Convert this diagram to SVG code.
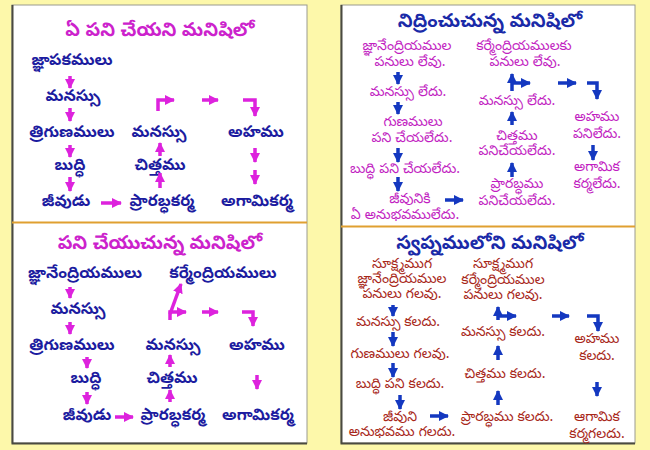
<svg xmlns="http://www.w3.org/2000/svg" width="650" height="450" viewBox="0 0 650 450">
<style>
text{font-family:"Noto Sans Telugu","Lohit Telugu","Noto Sans",sans-serif;text-anchor:middle;dominant-baseline:central}
.t1{font-size:19px;font-weight:bold;fill:#cc22cc}
.t2{font-size:19px;font-weight:bold;fill:#1a2aa8}
.lb{font-size:16px;font-weight:bold;fill:#1c1ca0}
.lm{font-size:14px;fill:#c21fc2}
.lr{font-size:14px;fill:#a8281a}
.am{fill:none;stroke:#dd22dd;stroke-width:3.5}
.ab{fill:none;stroke:#1438c0;stroke-width:3.5}
</style>
<defs>
<marker id="hm" viewBox="0 0 10 10" refX="9" refY="5" markerWidth="10" markerHeight="10" markerUnits="userSpaceOnUse" orient="auto"><path d="M0,0 L10,5 L0,10 z" fill="#dd22dd"/></marker>
<marker id="hb" viewBox="0 0 10 10" refX="9" refY="5" markerWidth="10" markerHeight="10" markerUnits="userSpaceOnUse" orient="auto"><path d="M0,0 L10,5 L0,10 z" fill="#1438c0"/></marker>
</defs>
<rect x="0" y="0" width="650" height="450" fill="#fdf8aa"/>
<g id="panels">
<rect x="12" y="5" width="295" height="438" fill="#ffffff" stroke="#9a9a90" stroke-width="1"/>
<path d="M12.5,5 V443.5 H307" fill="none" stroke="#4a4a40" stroke-width="2"/>
<line x1="12" y1="222.5" x2="307" y2="222.5" stroke="#e0a030" stroke-width="2"/>
<rect x="341" y="5" width="294" height="438" fill="#ffffff" stroke="#9a9a90" stroke-width="1"/>
<path d="M341.5,5 V443.5 H635" fill="none" stroke="#4a4a40" stroke-width="2"/>
<line x1="341" y1="226.5" x2="635" y2="226.5" stroke="#e0a030" stroke-width="2"/>
</g>

<!-- top-left -->
<g id="tl-title"><text class="t1" x="160" y="32">ఏ పని చేయని మనిషిలో</text></g>
<g id="tl-n1"><text class="lb" x="72" y="62">జ్ఞాపకములు</text></g>
<g id="tl-n2"><text class="lb" x="73" y="98">మనస్సు</text></g>
<g id="tl-n3"><text class="lb" x="72" y="134">త్రిగుణములు</text></g>
<g id="tl-n4"><text class="lb" x="70" y="167">బుద్ధి</text></g>
<g id="tl-n5"><text class="lb" x="66" y="203">జీవుడు</text></g>
<g id="tl-n6"><text class="lb" x="162" y="203">ప్రారబ్ధకర్మ</text></g>
<g id="tl-n7"><text class="lb" x="160" y="167">చిత్తము</text></g>
<g id="tl-n8"><text class="lb" x="159" y="134">మనస్సు</text></g>
<g id="tl-n9"><text class="lb" x="256" y="134">అహము</text></g>
<g id="tl-n10"><text class="lb" x="257" y="203">అగామికర్మ</text></g>

<!-- bottom-left -->
<g id="bl-title"><text class="t1" x="160" y="245">పని చేయుచున్న మనిషిలో</text></g>
<g id="bl-n1"><text class="lb" x="85" y="275">జ్ఞానేంద్రియములు</text></g>
<g id="bl-n2"><text class="lb" x="223" y="275">కర్మేంద్రియములు</text></g>
<g id="bl-n3"><text class="lb" x="78" y="311">మనస్సు</text></g>
<g id="bl-n4"><text class="lb" x="72" y="347">త్రిగుణములు</text></g>
<g id="bl-n5"><text class="lb" x="173" y="347">మనస్సు</text></g>
<g id="bl-n6"><text class="lb" x="257" y="347">అహము</text></g>
<g id="bl-n7"><text class="lb" x="86" y="380">బుద్ధి</text></g>
<g id="bl-n8"><text class="lb" x="172" y="380">చిత్తము</text></g>
<g id="bl-n9"><text class="lb" x="87" y="417">జీవుడు</text></g>
<g id="bl-n10"><text class="lb" x="173" y="417">ప్రారబ్ధకర్మ</text></g>
<g id="bl-n11"><text class="lb" x="258" y="417">అగామికర్మ</text></g>

<!-- top-right -->
<g id="tr-title"><text class="t2" x="490" y="23">నిద్రించుచున్న మనిషిలో</text></g>
<g id="tr-n1"><text class="lm" x="407" y="47">జ్ఞానేంద్రియముల</text><text class="lm" x="410" y="63">పనులు లేవు.</text></g>
<g id="tr-n2"><text class="lm" x="408" y="93">మనస్సు లేదు.</text></g>
<g id="tr-n3"><text class="lm" x="413" y="123">గుణములు</text><text class="lm" x="412" y="139">పని చేయలేదు.</text></g>
<g id="tr-n4"><text class="lm" x="405" y="170">బుద్ధి పని చేయలేదు.</text></g>
<g id="tr-n5"><text class="lm" x="410" y="200">జీవునికి</text><text class="lm" x="405" y="216">ఏ అనుభవములేదు.</text></g>
<g id="tr-n6"><text class="lm" x="524" y="47">కర్మేంద్రియములకు</text><text class="lm" x="525" y="63">పనులు లేవు.</text></g>
<g id="tr-n7"><text class="lm" x="517" y="102">మనస్సు లేదు.</text></g>
<g id="tr-n8"><text class="lm" x="517" y="137">చిత్తము</text><text class="lm" x="517" y="152">పనిచేయలేదు.</text></g>
<g id="tr-n9"><text class="lm" x="517" y="185">ప్రారబ్ధము</text><text class="lm" x="517" y="202">పనిచేయలేదు.</text></g>
<g id="tr-n10"><text class="lm" x="597" y="118">అహము</text><text class="lm" x="597" y="135">పనిలేదు.</text></g>
<g id="tr-n11"><text class="lm" x="597" y="168">అగామిక</text><text class="lm" x="597" y="185">కర్మలేదు.</text></g>

<!-- bottom-right -->
<g id="br-title"><text class="t2" x="490" y="245">స్వప్నములోని మనిషిలో</text></g>
<g id="br-n1"><text class="lr" x="402" y="265">సూక్ష్మముగ</text><text class="lr" x="402" y="280">జ్ఞానేంద్రియముల</text><text class="lr" x="402" y="295">పనులు గలవు.</text></g>
<g id="br-n2"><text class="lr" x="398" y="323">మనస్సు కలదు.</text></g>
<g id="br-n3"><text class="lr" x="400" y="355">గుణములు గలవు.</text></g>
<g id="br-n4"><text class="lr" x="400" y="385">బుద్ధి పని కలదు.</text></g>
<g id="br-n5"><text class="lr" x="400" y="418">జీవుని</text><text class="lr" x="402" y="433">అనుభవము గలదు.</text></g>
<g id="br-n6"><text class="lr" x="503" y="265">సూక్ష్మముగ</text><text class="lr" x="503" y="281">కర్మేంద్రియముల</text><text class="lr" x="503" y="296">పనులు గలవు.</text></g>
<g id="br-n7"><text class="lr" x="503" y="333">మనస్సు కలదు.</text></g>
<g id="br-n8"><text class="lr" x="505" y="375">చిత్తము కలదు.</text></g>
<g id="br-n9"><text class="lr" x="507" y="418">ప్రారబ్ధము కలదు.</text></g>
<g id="br-n10"><text class="lr" x="597" y="340">అహము</text><text class="lr" x="597" y="357">కలదు.</text></g>
<g id="br-n11"><text class="lr" x="597" y="418">ఆగామిక</text><text class="lr" x="597" y="435">కర్మగలదు.</text></g>

<g id="connectors">
<!-- top-left -->
<path class="am" marker-end="url(#hm)" d="M70,76 L70,88"/>
<path class="am" marker-end="url(#hm)" d="M70,108 L70,121"/>
<path class="am" marker-end="url(#hm)" d="M70,145 L70,157"/>
<path class="am" marker-end="url(#hm)" d="M70,177 L70,191"/>
<path class="am" marker-end="url(#hm)" d="M101,203 L121,203"/>
<path class="am" marker-end="url(#hm)" d="M160,188 L160,173"/>
<path class="am" marker-end="url(#hm)" d="M160,156 L160,143"/>
<path class="am" marker-end="url(#hm)" d="M158,111 L158,100 L174,100"/>
<path class="am" marker-end="url(#hm)" d="M202,100 L218,100"/>
<path class="am" marker-end="url(#hm)" d="M243,100 L255,100 L255,116"/>
<path class="am" marker-end="url(#hm)" d="M255,148 L255,162"/>
<path class="am" marker-end="url(#hm)" d="M255,170 L255,184"/>
<!-- bottom-left -->
<path class="am" marker-end="url(#hm)" d="M70,287 L70,298"/>
<path class="am" marker-end="url(#hm)" d="M70,322 L70,334"/>
<path class="am" marker-end="url(#hm)" d="M87,357 L87,368"/>
<path class="am" marker-end="url(#hm)" d="M87,392 L87,404"/>
<path class="am" marker-end="url(#hm)" d="M115,417 L133,417"/>
<path class="am" marker-end="url(#hm)" d="M170,367 L170,355"/>
<path class="am" marker-end="url(#hm)" d="M170,402 L170,390"/>
<path class="am" marker-end="url(#hm)" d="M170,320 L170,312 L186,312"/>
<path class="am" marker-end="url(#hm)" d="M170,314 L181,284"/>
<path class="am" marker-end="url(#hm)" d="M202,312 L218,312"/>
<path class="am" marker-end="url(#hm)" d="M242,312 L253,312 L253,326"/>
<path class="am" marker-end="url(#hm)" d="M257,375 L257,389"/>
<!-- top-right -->
<path class="ab" marker-end="url(#hb)" d="M398,72 L398,84"/>
<path class="ab" marker-end="url(#hb)" d="M398,102 L398,114"/>
<path class="ab" marker-end="url(#hb)" d="M398,148 L398,162"/>
<path class="ab" marker-end="url(#hb)" d="M398,177 L398,191"/>
<path class="ab" marker-end="url(#hb)" d="M445,200 L463,200"/>
<path class="ab" marker-end="url(#hb)" d="M512,91 L512,74"/>
<path class="ab" marker-end="url(#hb)" d="M512,83 L530,83"/>
<path class="ab" marker-end="url(#hb)" d="M558,83 L576,83"/>
<path class="ab" marker-end="url(#hb)" d="M587,83 L597,83 L597,99"/>
<path class="ab" marker-end="url(#hb)" d="M512,125 L512,112"/>
<path class="ab" marker-end="url(#hb)" d="M512,177 L512,163"/>
<path class="ab" marker-end="url(#hb)" d="M593,145 L593,160"/>
<!-- bottom-right -->
<path class="ab" marker-end="url(#hb)" d="M393,305 L393,316"/>
<path class="ab" marker-end="url(#hb)" d="M393,332 L393,346"/>
<path class="ab" marker-end="url(#hb)" d="M393,363 L393,377"/>
<path class="ab" marker-end="url(#hb)" d="M400,395 L400,409"/>
<path class="ab" marker-end="url(#hb)" d="M430,416 L448,416"/>
<path class="ab" marker-end="url(#hb)" d="M498,320 L498,307"/>
<path class="ab" marker-end="url(#hb)" d="M498,316 L516,316"/>
<path class="ab" marker-end="url(#hb)" d="M552,316 L569,316"/>
<path class="ab" marker-end="url(#hb)" d="M587,316 L598,316 L598,331"/>
<path class="ab" marker-end="url(#hb)" d="M498,360 L498,346"/>
<path class="ab" marker-end="url(#hb)" d="M498,405 L498,391"/>
<path class="ab" marker-end="url(#hb)" d="M597,382 L597,396"/>
</g>
</svg>
